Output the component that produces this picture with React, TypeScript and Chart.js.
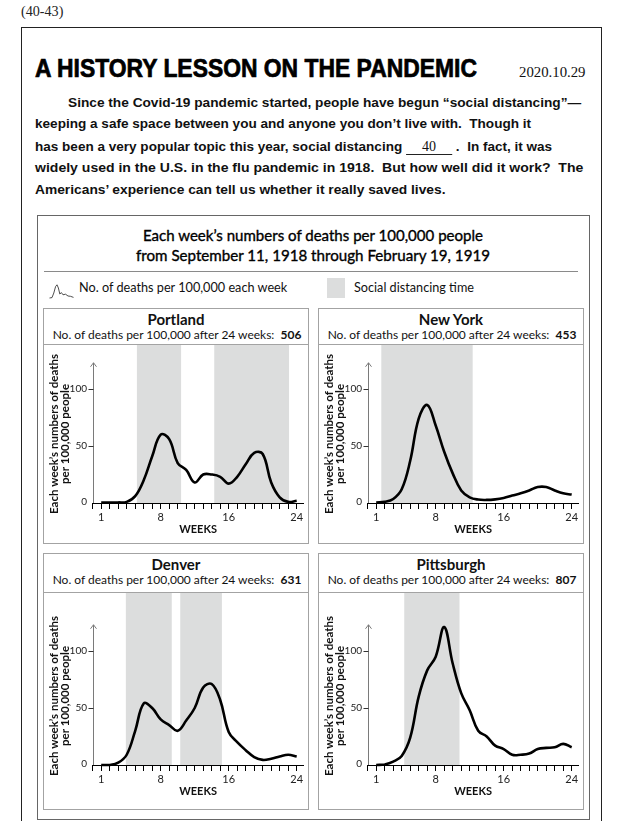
import React, { useEffect, useLayoutEffect, useRef, useState } from 'react';
import { Chart, registerables } from 'chart.js';

Chart.register(...registerables);

// ---------------- data ----------------
const weeks = [1, 2, 3, 4, 5, 6, 7, 8, 9, 10, 11, 12, 13, 14, 15, 16, 17, 18, 19, 20, 21, 22, 23, 24];
const portlandDeaths = [0.5, 0.5, 0.5, 1, 6, 20, 41, 60, 56, 35, 29, 18, 25, 25, 23, 17, 23, 34, 44, 43, 18, 5, 1, 2];
const newYorkDeaths = [0.5, 1, 3.5, 12, 37, 74, 86, 68, 45, 26, 11, 5, 3, 2.7, 3.2, 4.4, 6.5, 8.5, 11, 14, 14, 11, 8.5, 7.4];
const denverDeaths = [0, 0, 2, 9, 30, 54, 50, 40, 35, 30, 39, 50, 68, 71, 57, 29, 20, 13, 7, 4.5, 5.5, 7.5, 9, 7.5];
const pittsburghDeaths = [0, 0.5, 3, 8, 24, 60, 83, 95, 121, 89, 63, 48, 30, 25, 17, 14, 9, 9, 10, 14, 15, 15.5, 18.5, 15.5];

type Period = [number, number];
const portlandDistancing: Period[] = [[5.2, 10.4], [14.3, 23.1]];
const newYorkDistancing: Period[] = [[1.6, 12.35]];
const denverDistancing: Period[] = [[3.9, 9.3], [10.3, 15.2]];
const pittsburghDistancing: Period[] = [[4.3, 10.8]];

const cityNames = ['Portland', 'New York', 'Denver', 'Pittsburgh'];
const cityTotals = [506, 453, 631, 807];
const xTickLabels = [1, 8, 16, 24];
const yTickLabels = [0, 50, 100];
const yAxisTop = 123;
const xAxisMax = 24.8;

const yTitleLines = ['Each week\u2019s numbers of deaths', 'per 100,000 people'];
const xTitle = 'WEEKS';

// ---------------- styling constants ----------------
const SHADE = '#dcdddd';
const PX_PER_UNIT = 1.14;
const CANVAS_W = 264;
const Y_SCALE_W = 48.7;
const PAD_RIGHT = 4.5;
const X_SCALE_H = 34;

const BASE: Record<string, number> = {
  Lato: 0.887,
  'Liberation Sans': 0.8465,
  'Liberation Serif': 0.8375,
};

// ---------------- text helper ----------------
function Txt(props: {
  x: number; baseline: number; size: number; font: string; weight?: number | string;
  fit?: number; align?: 'left' | 'center'; color?: string; stroke?: number; children: React.ReactNode;
}) {
  const { x, baseline, size, font, weight = 400, fit, align = 'left', color = '#111', stroke = 0, children } = props;
  const ref = useRef<HTMLSpanElement>(null);
  const [s, setS] = useState(1);
  useLayoutEffect(() => {
    const measure = () => {
      const el = ref.current;
      if (el && fit) {
        const w = el.offsetWidth;
        if (w) setS(fit / w);
      }
    };
    measure();
    if ((document as any).fonts) (document as any).fonts.ready.then(measure);
  }, [fit]);
  const top = baseline - (BASE[font] ?? 0.85) * size;
  return (
    <span
      ref={ref}
      style={{
        position: 'absolute', left: x, top, whiteSpace: 'pre', fontFamily: `"${font}"`, fontSize: size,
        lineHeight: size + 'px', fontWeight: weight as any, color,
        WebkitTextStroke: stroke ? `${stroke}px ${color}` : undefined,
        transformOrigin: align === 'center' ? '50% 0' : '0 0',
        transform: (align === 'center' ? 'translateX(-50%) ' : '') + `scaleX(${s})`,
      }}
    >
      {children}
    </span>
  );
}

// ---------------- chart ----------------
const decorPlugin = {
  id: 'decor',
  beforeDraw(chart: any, _a: any, opts: any) {
    const { ctx, chartArea, scales } = chart;
    const xs = scales.x, ys = scales.y;
    const bottom = ys.getPixelForValue(0);
    ctx.save();
    ctx.fillStyle = SHADE;
    for (const [a, b] of opts.periods as Period[]) {
      const x1 = xs.getPixelForValue(a), x2 = xs.getPixelForValue(b);
      ctx.fillRect(x1, chartArea.top, x2 - x1, bottom - chartArea.top);
    }
    ctx.restore();
  },
  beforeDatasetsDraw(chart: any) {
    const { ctx, chartArea, scales } = chart;
    const ys = scales.y;
    const ax = Math.round(chartArea.left) + 0.5;
    const y0 = ys.getPixelForValue(0);
    const yt = ys.getPixelForValue(yAxisTop);
    ctx.save();
    // y axis line with arrow head
    ctx.strokeStyle = '#7a7a7a';
    ctx.lineWidth = 1;
    ctx.beginPath();
    ctx.moveTo(ax, y0);
    ctx.lineTo(ax, yt);
    ctx.stroke();
    ctx.beginPath();
    ctx.moveTo(ax - 3, yt + 4);
    ctx.lineTo(ax, yt);
    ctx.lineTo(ax + 3, yt + 4);
    ctx.stroke();
    // y ticks and labels
    ctx.font = '10px "Lato"';
    ctx.fillStyle = '#222';
    ctx.textAlign = 'right';
    ctx.textBaseline = 'middle';
    for (const v of yTickLabels) {
      const yp = ys.getPixelForValue(v);
      if (v !== 0) {
        const py = Math.round(yp) + 0.5;
        ctx.strokeStyle = '#333';
        ctx.beginPath();
        ctx.moveTo(ax - 5, py);
        ctx.lineTo(ax, py);
        ctx.stroke();
      }
      ctx.fillText(String(v), ax - 6.5, yp - (v === 0 ? 1.5 : 0));
    }
    ctx.restore();
  },
  afterDraw(chart: any) {
    const { ctx, chartArea, scales } = chart;
    const ys = scales.y;
    const cy = ys.getPixelForValue(0) - 69;
    ctx.save();
    ctx.fillStyle = '#111';
    ctx.font = 'bold 11.5px "Lato"';
    ctx.textAlign = 'center';
    ctx.textBaseline = 'alphabetic';
    ctx.translate(chartArea.left - 35.1, cy);
    ctx.rotate(-Math.PI / 2);
    ctx.fillText(yTitleLines[0], 0, 0, 172);
    ctx.fillText(yTitleLines[1], 0, 11.4, 172);
    ctx.restore();
  },
};

function makeConfig(values: number[], periods: Period[], plotH: number, canvasH: number): any {
  const yMax = plotH / PX_PER_UNIT;
  return {
    type: 'line',
    data: {
      datasets: [
        {
          data: weeks.map((w, i) => ({ x: w, y: values[i] })),
          borderColor: '#000',
          borderWidth: 2.6,
          pointRadius: 0,
          tension: 0.4,
          fill: false,
          clip: false,
        },
      ],
    },
    options: {
      animation: false,
      responsive: false,
      maintainAspectRatio: false,
      events: [],
      layout: { padding: { left: 0, right: PAD_RIGHT, top: 0, bottom: canvasH - plotH - X_SCALE_H } },
      plugins: { legend: { display: false }, tooltip: { enabled: false }, decor: { periods } },
      scales: {
        x: {
          type: 'linear',
          min: 0,
          max: xAxisMax,
          afterFit: (s: any) => { s.height = X_SCALE_H; },
          ticks: {
            stepSize: 1, includeBounds: false, autoSkip: false, maxRotation: 0, minRotation: 0, padding: 2,
            color: '#222', font: { family: 'Lato', size: 11 },
            callback: (v: number) => (xTickLabels.includes(v) ? String(v) : ''),
          },
          grid: { drawOnChartArea: false, drawTicks: true, tickLength: 6, color: '#000', lineWidth: 1 },
          border: { display: true, color: '#000', width: 1 },
          title: {
            display: true, text: xTitle, color: '#111',
            font: { family: 'Lato', size: 11, weight: 'bold' }, padding: { top: 0, bottom: 1 },
          },
        },
        y: {
          type: 'linear',
          min: 0,
          max: yMax,
          afterFit: (s: any) => { s.width = Y_SCALE_W; },
          ticks: { display: false, stepSize: 50 },
          grid: { display: false },
          border: { display: false },
        },
      },
    },
    plugins: [decorPlugin],
  };
}

function CityChart(props: { left: number; top: number; height: number; plotH: number; values: number[]; periods: Period[] }) {
  const { left, top, height, plotH, values, periods } = props;
  const ref = useRef<HTMLCanvasElement>(null);
  useEffect(() => {
    const chart = new Chart(ref.current as HTMLCanvasElement, makeConfig(values, periods, plotH, height));
    return () => chart.destroy();
  }, []);
  return (
    <canvas
      ref={ref}
      width={CANVAS_W}
      height={height}
      style={{ position: 'absolute', left, top, width: CANVAS_W, height }}
    />
  );
}

function Panel(props: {
  left: number; top: number; sep: number; bottom: number; axisY: number; idx: number; values: number[]; periods: Period[];
}) {
  const { left, top, sep, bottom, axisY, idx, values, periods } = props;
  const center = left + 133;
  const canvasTop = sep + 1;
  const canvasH = bottom - canvasTop;
  return (
    <>
      <div style={{
        position: 'absolute', left, top, width: 266, height: bottom - top + 1, boxSizing: 'border-box',
        border: '1px solid #a3a3a3',
      }} />
      <div style={{ position: 'absolute', left: left + 1, top: sep, width: 264, height: 1, background: '#a3a3a3' }} />
      <Txt x={center} baseline={top + 17.7} size={15} font="Lato" weight={700} align="center" color="#111">
        {cityNames[idx]}
      </Txt>
      <Txt x={center + 0.8} baseline={top + 30.8} size={11.5} font="Lato" align="center" fit={249} color="#111">
        {'No. of deaths per 100,000 after 24 weeks:  '}<b>{cityTotals[idx]}</b>
      </Txt>
      <CityChart left={left + 1} top={canvasTop} height={canvasH} plotH={axisY - canvasTop} values={values} periods={periods} />
    </>
  );
}

export default function App() {
  const para = { size: 13.5, font: 'Liberation Sans', weight: 700, color: '#111' };
  return (
    <div style={{ position: 'absolute', left: 0, top: 0, width: 621, height: 821, overflow: 'hidden', background: '#fff' }}>
      <Txt x={20.6} baseline={17} size={14} font="Liberation Serif" fit={42.4} color="#222">(40-43)</Txt>
      <div style={{ position: 'absolute', left: 21, top: 27, width: 581, height: 830, boxSizing: 'border-box', border: '1px solid #222' }} />

      <Txt x={35} baseline={77.2} size={25} font="Liberation Sans" weight={700} fit={442} color="#000" stroke={0.7}>
        A HISTORY LESSON ON THE PANDEMIC
      </Txt>
      <Txt x={518.8} baseline={78} size={14} font="Liberation Serif" fit={66.5} color="#111">2020.10.29</Txt>

      <Txt x={67.8} baseline={107} size={para.size} font={para.font} weight={para.weight} fit={512.8} color={para.color}>
        {'Since the Covid-19 pandemic started, people have begun \u201csocial distancing\u201d\u2014'}
      </Txt>
      <Txt x={34.5} baseline={128.8} size={para.size} font={para.font} weight={para.weight} fit={496.5} color={para.color}>
        {'keeping a safe space between you and anyone you don\u2019t live with.  Though it'}
      </Txt>
      <Txt x={34.5} baseline={150.6} size={para.size} font={para.font} weight={para.weight} fit={517.5} color={para.color}>
        {'has been a very popular topic this year, social distancing '}
        <span style={{
          display: 'inline-block', width: 46, borderBottom: '1px solid #222', textAlign: 'center',
          fontFamily: '"Liberation Serif"', fontWeight: 400, fontSize: 14, lineHeight: '15px',
        }}>40</span>
        {' .  In fact, it was'}
      </Txt>
      <Txt x={34.5} baseline={172.4} size={para.size} font={para.font} weight={para.weight} fit={548} color={para.color}>
        {'widely used in the U.S. in the flu pandemic in 1918.  But how well did it work?  The'}
      </Txt>
      <Txt x={34.5} baseline={194.2} size={para.size} font={para.font} weight={para.weight} fit={410.3} color={para.color}>
        {'Americans\u2019 experience can tell us whether it really saved lives.'}
      </Txt>

      <div style={{ position: 'absolute', left: 37, top: 215, width: 553, height: 605, boxSizing: 'border-box', border: '1px solid #666' }} />
      <Txt x={313} baseline={241} size={15} font="Lato" fit={340} align="center" color="#000" stroke={0.35}>
        {'Each week\u2019s numbers of deaths per 100,000 people'}
      </Txt>
      <Txt x={313} baseline={261.5} size={15} font="Lato" fit={354} align="center" color="#000" stroke={0.35}>
        {'from September 11, 1918 through February 19, 1919'}
      </Txt>
      <div style={{ position: 'absolute', left: 44, top: 271, width: 534, height: 1, background: '#8a8a8a' }} />

      <svg style={{ position: 'absolute', left: 0, top: 0 }} width={621} height={310}>
        <polyline
          points="49.5,298 52,297.6 53.8,293 55.6,286.5 57,284.8 58.4,288 59.8,294 61.4,292.6 63,294.8 65.5,294.2 68,296 70.5,296.3 73.5,297.4"
          fill="none" stroke="#222" strokeWidth={0.8}
        />
      </svg>
      <Txt x={79.3} baseline={293} size={13} font="Lato" fit={208.7} color="#111">
        No. of deaths per 100,000 each week
      </Txt>
      <div style={{ position: 'absolute', left: 327.3, top: 278, width: 17.7, height: 20, background: SHADE }} />
      <Txt x={353.7} baseline={293} size={13} font="Lato" fit={119.8} color="#111">
        Social distancing time
      </Txt>

      <Panel left={43} top={308} sep={344} bottom={543} axisY={503} idx={0} values={portlandDeaths} periods={portlandDistancing} />
      <Panel left={318} top={308} sep={344} bottom={543} axisY={503} idx={1} values={newYorkDeaths} periods={newYorkDistancing} />
      <Panel left={43} top={553} sep={592} bottom={809} axisY={765} idx={2} values={denverDeaths} periods={denverDistancing} />
      <Panel left={318} top={553} sep={592} bottom={809} axisY={765} idx={3} values={pittsburghDeaths} periods={pittsburghDistancing} />
    </div>
  );
}
